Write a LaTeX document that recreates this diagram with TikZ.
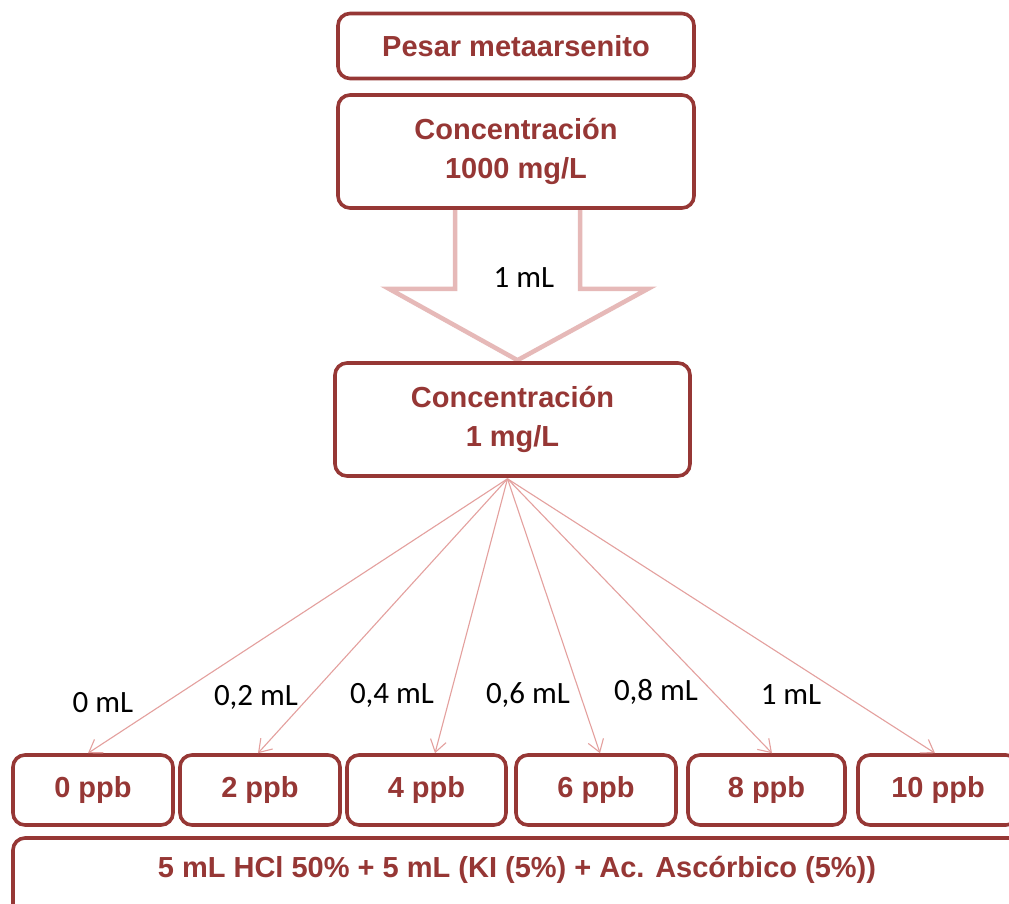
\documentclass[tikz,border=0pt]{standalone}
\usepackage{fontspec}
\setmainfont{Liberation Sans}
\newfontfamily\calib{Carlito}
\usetikzlibrary{calc,arrows.meta}
\pgfdeclarelayer{background}
\pgfsetlayers{background,main}
\definecolor{boxred}{RGB}{150,55,53}
\definecolor{pinkline}{RGB}{228,160,158}
\definecolor{pinkarrow}{RGB}{230,185,184}
\begin{document}
\begin{tikzpicture}[x=1pt,y=-1pt,
  stepbox/.style={draw=boxred,line width=3.6pt,rounded corners=12pt,fill=white,
    text=boxred,font=\fontsize{29}{39}\selectfont\bfseries,align=center,inner sep=0pt},
  fanline/.style={draw=pinkline,line width=1.1pt,-{Straight Barb[length=12pt,width=16pt,line width=1.1pt]}},
  vollabel/.style={font=\calib\fontsize{31}{36}\selectfont,text=black,inner sep=0pt}]
\useasboundingbox (0,0) rectangle (1009,904);
% top boxes
\node[stepbox,minimum width=356,minimum height=65] (b1) at (516,46) {Pesar metaarsenito};
\node[stepbox,minimum width=356,minimum height=113] (b2) at (516,151.5) {Concentración\\1000 mg/L};
\node[stepbox,minimum width=355,minimum height=113] (b3) at (512.5,419.5) {Concentración\\1 mg/L};
% block arrow
\coordinate (sl) at ($(b2.south)+(-61,-4)$);
\coordinate (sr) at ($(b2.south)+(64,-4)$);
\coordinate (tip) at ($(b3.north)+(5,-1)$);
\begin{pgfonlayer}{background}
\fill[white] (0,0) rectangle (1009,904);
\draw[draw=pinkarrow,line width=4.5pt,fill=white,line join=miter]
  (sl) -- ++(0,83) -- ++(-66,0) -- (tip) -- ($(sr)+(68,83)$) -- ($(sr)+(0,83)$) -- (sr);
\end{pgfonlayer}
\node[vollabel] (l1) at (524,278) {1 mL};
% bottom boxes
\node[stepbox,minimum width=160,minimum height=70] (p0) at (93,790) {0 ppb};
\node[stepbox,minimum width=160,minimum height=70] (p2) at (260,790) {2 ppb};
\node[stepbox,minimum width=159,minimum height=70] (p4) at (426.5,790) {4 ppb};
\node[stepbox,minimum width=160,minimum height=70] (p6) at (596,790) {6 ppb};
\node[stepbox,minimum width=157,minimum height=70] (p8) at (766.5,790) {8 ppb};
\node[stepbox,minimum width=160,minimum height=70] (p10) at (938,790) {10 ppb};
\node[stepbox,minimum width=1008,minimum height=78,text depth=20pt] (reag) at (517,877)
  {5 mL HCl 50\% + 5 mL (KI (5\%) + Ac. Ascórbico (5\%))};
% fan
\coordinate (fan) at ($(b3.south)+(-5,1)$);
\draw[fanline] (fan) -- ([xshift=-5]p0.north);
\draw[fanline] (fan) -- ([xshift=-2]p2.north);
\draw[fanline] (fan) -- ([xshift=8.5]p4.north);
\draw[fanline] (fan) -- ([xshift=4]p6.north);
\draw[fanline] (fan) -- ([xshift=5.5]p8.north);
\draw[fanline] (fan) -- ([xshift=-3]p10.north);
% labels
\node[vollabel] (v0) at (103,703) {0 mL};
\node[vollabel] (v2) at (256,697) {0,2 mL};
\node[vollabel] (v4) at (392,695) {0,4 mL};
\node[vollabel] (v6) at (528,695) {0,6 mL};
\node[vollabel] (v8) at (656,692) {0,8 mL};
\node[vollabel] (v10) at (791,695) {1 mL};
\end{tikzpicture}
\end{document}
